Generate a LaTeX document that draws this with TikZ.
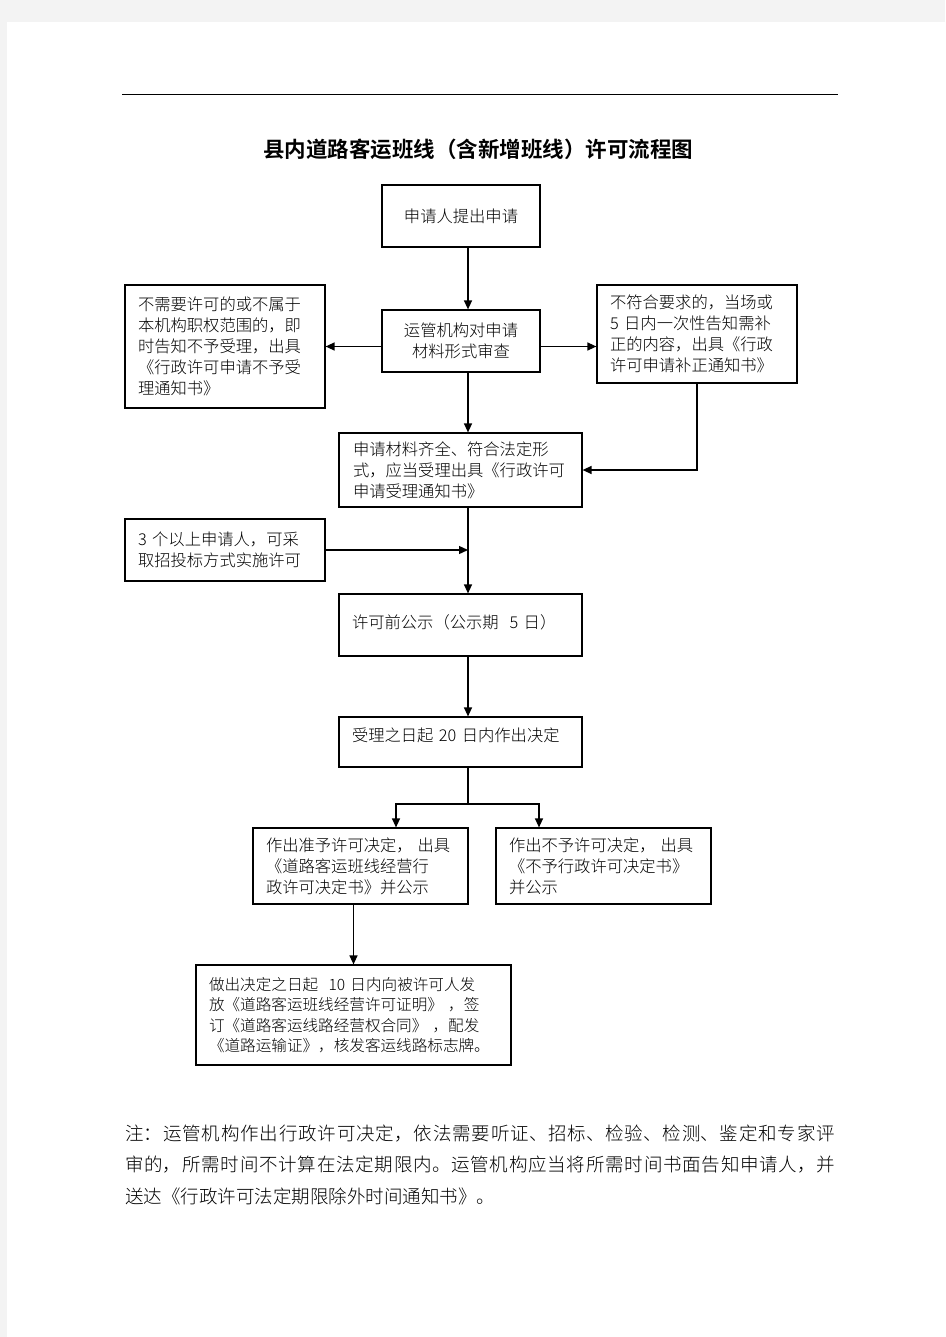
\documentclass[tikz,border=0pt]{standalone}
\usepackage{fontspec}
\newfontfamily\cjk{Noto Sans CJK SC}[UprightFont=* Light,BoldFont=* Bold]
\newfontfamily\cjkbold{Noto Sans CJK SC Bold}
\usetikzlibrary{arrows.meta}
\XeTeXlinebreaklocale "zh"
\XeTeXlinebreakskip=0pt plus 1pt
\definecolor{pageColor}{RGB}{243,243,243}
\tikzset{
  box/.style={draw=black,line width=1.2pt,inner ysep=0pt,font=\cjk\fontsize{16.3}{21}\selectfont},
  textbox/.style={box,align=left,inner xsep=13pt},
  arrow/.style={line width=1.3pt,-{Triangle[length=9pt,width=8pt]}}
}
\begin{document}
\begin{tikzpicture}[x=1pt,y=-1pt]
\path[use as bounding box,fill=pageColor] (0,0) rectangle (945,1337);
\path[fill=white] (7,22) rectangle (945,1337);

\draw[line width=1pt] (122,95) -- (838,95);

\node[font=\cjkbold\fontsize{21.5}{26}\selectfont] (title) at (478,149) {县内道路客运班线（含新增班线）许可流程图};

% boxes, top to bottom
\node[box,minimum width=158pt,minimum height=62pt] (apply) at (461,216) {申请人提出申请};

\node[box,align=center,minimum width=158pt,minimum height=62pt] (review) at (461,341) {运管机构对申请\\材料形式审查};

\node[textbox,text width=174pt,minimum height=123pt] (reject) at (225,346.5) {不需要许可的或不属于\\本机构职权范围的，即\\时告知不予受理，出具\\《行政许可申请不予受\\理通知书》};

\node[textbox,text width=174pt,minimum height=98pt] (correct) at (697,334) {不符合要求的，当场或\\5 日内一次性告知需补\\正的内容，出具《行政\\许可申请补正通知书》};

\node[textbox,inner xsep=14pt,text width=215pt,minimum height=74pt] (accept) at (460.5,470) {申请材料齐全、符合法定形\\式，应当受理出具《行政许可\\申请受理通知书》};

\node[textbox,text width=174pt,minimum height=62pt] (bid) at (225,550) {3 个以上申请人，可采\\取招投标方式实施许可};

\node[textbox,text width=217pt,minimum height=62pt,text depth=6pt] (publicity) at (460.5,625) {许可前公示（公示期\ \ 5 日）};

\node[textbox,text width=217pt,minimum height=50pt,text depth=14pt] (decide) at (460.5,742) {受理之日起 20 日内作出决定};

\node[textbox,inner xsep=13pt,text width=189pt,minimum height=76pt] (grant) at (360.5,866) {作出准予许可决定，\hspace{5pt}出具\\《道路客运班线经营行\\政许可决定书》并公示};

\node[textbox,inner xsep=13pt,text width=189pt,minimum height=76pt] (deny) at (603.5,866) {作出不予许可决定，\hspace{5pt}出具\\《不予行政许可决定书》\\并公示};

\node[textbox,text width=289pt,minimum height=100pt,font=\cjk\fontsize{15.6}{20.5}\selectfont] (issue) at (353.5,1015) {做出决定之日起\ \ 10 日内向被许可人发\\放《道路客运班线经营许可证明》\ ，签\\订《道路客运线路经营权合同》\ ，配发\\《道路运输证》，核发客运线路标志牌。};

% note under the chart
\node[anchor=base west,inner sep=0pt,text width=710pt,align=justify,font=\cjk\fontsize{18.5}{31.5}\selectfont] (note) at (125,1140) {注：运管机构作出行政许可决定，依法需要听证、招标、检验、检测、鉴定和专家评\linebreak 审的，所需时间不计算在法定期限内。运管机构应当将所需时间书面告知申请人，并\linebreak 送达《行政许可法定期限除外时间通知书》。};

% connectors
\coordinate (spine) at (468,0);
\coordinate (fork) at (468,804);
\draw[arrow] (apply.south -| spine) -- (review.north -| spine);
\draw[arrow] (review.west |- reject.east) -- (reject.east);
\draw[arrow] (review.east |- reject.east) -- (correct.west |- reject.east);
\draw[arrow] (review.south -| spine) -- (accept.north -| spine);
\draw[arrow] (correct.south) |- (accept.east);
\draw[arrow] (accept.south -| spine) -- (publicity.north -| spine);
\draw[arrow] (bid.east) -- (bid.east -| spine);
\draw[arrow] (publicity.south -| spine) -- (decide.north -| spine);
\draw[line width=1.3pt] (decide.south -| spine) -- (fork);
\draw[arrow] (fork) -| ([xshift=35.5pt]grant.north);
\draw[arrow] (fork) -| ([xshift=-64.5pt]deny.north);
\draw[arrow] (grant.south -| issue.north) -- (issue.north);
\end{tikzpicture}
\end{document}
